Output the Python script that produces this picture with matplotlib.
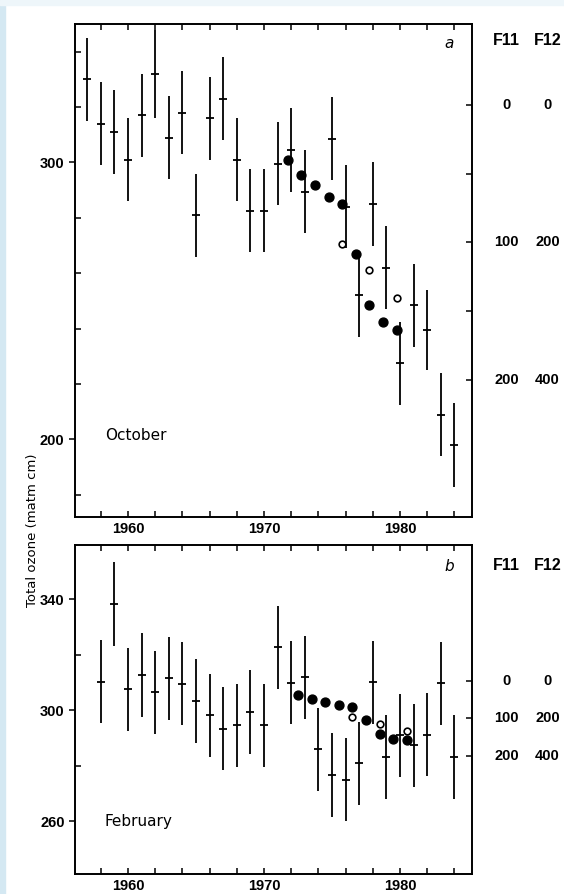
import matplotlib
matplotlib.use("Agg")
import matplotlib.pyplot as plt
from matplotlib.patches import Rectangle
from matplotlib.ticker import FixedLocator, NullFormatter

# October (panel a)
oct_years = [1957, 1958, 1959, 1960, 1961, 1962, 1963, 1964, 1965, 1966, 1967, 1968, 1969, 1970,
             1971, 1972, 1973, 1975, 1976, 1977, 1978, 1979, 1980, 1981, 1982, 1983, 1984]
oct_ozone = [330, 314, 311, 301, 317, 332, 309, 318, 281, 316, 323, 301, 282.5, 282.5,
             299.5, 304.5, 289.5, 308.5, 284, 252, 285, 262, 227.5, 248.5, 239.5, 209, 198]
oct_err = [15, 15, 15, 15, 15, 16, 15, 15, 15, 15, 15, 15, 15, 15,
           15, 15, 15, 15, 15, 15, 15, 15, 15, 15, 14.5, 15, 15]
oct_model_years = [1971.75, 1972.75, 1973.75, 1974.75, 1975.75, 1976.75, 1977.75, 1978.75, 1979.75]
oct_model = [301, 295.5, 292, 287.5, 285, 267, 248.5, 242.5, 239.5]
oct_open_years = [1975.75, 1977.75, 1979.75]
oct_open = [270.5, 261, 251]

# February (panel b)
feb_years = [1958, 1959, 1960, 1961, 1962, 1963, 1964, 1965, 1966, 1967, 1968, 1969, 1970, 1971,
             1972, 1973, 1974, 1975, 1976, 1977, 1978, 1979, 1980, 1981, 1982, 1983, 1984]
feb_ozone = [310.3, 338.3, 307.5, 312.7, 306.4, 311.5, 309.6, 303.3, 298.2, 293.4, 294.6, 299.4,
             294.6, 322.6, 309.9, 311.8, 285.9, 276.7, 275.0, 280.9, 310.0, 283.1, 290.9, 287.3,
             291.2, 309.7, 283.1]
feb_err = [15] * len(feb_years)
feb_model_years = [1972.5, 1973.5, 1974.5, 1975.5, 1976.5, 1977.5, 1978.5, 1979.5, 1980.5]
feb_model = [305.4, 304, 303, 301.8, 301, 296.4, 291.6, 289.7, 289.1]
feb_open_years = [1976.5, 1978.5, 1980.5]
feb_open = [297.4, 294.9, 292.4]

# right-hand CFC scales
cfc_ticks_a = [0, 50, 100, 150, 200]
cfc_ticks_b = [0, 100, 200]
f11_labels = ["0", "100", "200"]
f12_labels = ["0", "200", "400"]

NUM = dict(family="Liberation Sans", fontweight="bold", fontsize=10.5)

fig = plt.figure(figsize=(5.64, 8.94), dpi=100)
fig.patch.set_facecolor("white")
fig.patches.append(Rectangle((0, 0), 5 / 564, 1, transform=fig.transFigure,
                             color="#d4e8f2", zorder=0))
fig.patches.append(Rectangle((0, 1 - 5 / 894), 1, 5 / 894, transform=fig.transFigure,
                             color="#eef6fa", zorder=0))

ax1 = fig.add_axes([75 / 564, 1 - 517 / 894, 397 / 564, 493 / 894])
ax2 = fig.add_axes([75 / 564, 1 - 874 / 894, 397 / 564, 329 / 894])


def style_labels(ax):
    for lab in ax.get_xticklabels() + ax.get_yticklabels():
        lab.set_fontfamily(NUM["family"])
        lab.set_fontweight(NUM["fontweight"])
        lab.set_fontsize(NUM["fontsize"])


def draw_panel(ax, years, vals, errs, myears, mvals, oyears, ovals):
    ax.errorbar(years, vals, yerr=errs, fmt="_", color="black", ms=5.5, mew=1.3,
                elinewidth=1.3, capsize=0)
    ax.plot(myears, mvals, "o", color="black", ms=6.4, zorder=3)
    ax.plot(oyears, ovals, "o", mfc="white", mec="black", ms=4.8, mew=1.2, zorder=3)
    ax.set_xlim(1956.1, 1985.3)
    ax.xaxis.set_major_locator(FixedLocator([1960, 1970, 1980]))
    ax.xaxis.set_minor_locator(FixedLocator([1958, 1962, 1964, 1966, 1968, 1972, 1974,
                                             1976, 1978, 1982, 1984]))
    ax.tick_params(axis="x", which="both", direction="in", top=True, length=4.5, width=1.1)
    ax.tick_params(axis="y", which="major", direction="out", length=4, width=1.1)
    ax.tick_params(axis="y", which="minor", direction="in", length=4.5, width=1.1)
    ax.yaxis.set_minor_formatter(NullFormatter())
    for sp in ax.spines.values():
        sp.set_linewidth(1.4)


draw_panel(ax1, oct_years, oct_ozone, oct_err, oct_model_years, oct_model,
           oct_open_years, oct_open)
ax1.set_ylim(172, 350)
ax1.set_yticks([200, 300])
ax1.yaxis.set_minor_locator(FixedLocator([180, 220, 240, 260, 280, 320, 340]))
style_labels(ax1)
ax1.text(0.075, 0.156, "October", transform=ax1.transAxes, fontsize=11)
ax1.text(0.955, 0.96, "a", transform=ax1.transAxes, fontsize=11, style="italic",
         ha="right", va="center")

draw_panel(ax2, feb_years, feb_ozone, feb_err, feb_model_years, feb_model,
           feb_open_years, feb_open)
ax2.set_ylim(241, 359.5)
ax2.set_yticks([260, 300, 340])
ax2.yaxis.set_minor_locator(FixedLocator([280, 320]))
style_labels(ax2)
ax2.text(0.075, 0.145, "February", transform=ax2.transAxes, fontsize=11)
ax2.text(0.955, 0.935, "b", transform=ax2.transAxes, fontsize=11, style="italic",
         ha="right", va="center")

# CFC scales on the right
for ax, lims, ticks, head_y in [(ax1, (299.6, -58.7), cfc_ticks_a, 0.9675),
                                (ax2, (514.7, -362.7), cfc_ticks_b, 0.939)]:
    tw = ax.twinx()
    tw.set_ylim(*lims)
    tw.set_yticks(ticks)
    tw.set_yticklabels([])
    tw.tick_params(axis="y", direction="in", length=4.5, width=1.1)
    for sp in tw.spines.values():
        sp.set_visible(False)
    trans = tw.get_yaxis_transform()
    for v, a, b in zip(cfc_ticks_b, f11_labels, f12_labels):
        tw.text(1.087, v, a, transform=trans, ha="center", va="center", clip_on=False, **NUM)
        tw.text(1.19, v, b, transform=trans, ha="center", va="center", clip_on=False, **NUM)
    ax.text(1.087, head_y, "F11", transform=ax.transAxes, ha="center", va="center",
            family="Liberation Sans", fontweight="bold", fontsize=11.5)
    ax.text(1.19, head_y, "F12", transform=ax.transAxes, ha="center", va="center",
            family="Liberation Sans", fontweight="bold", fontsize=11.5)

fig.text(33 / 564, 1 - 530 / 894, "Total ozone (matm cm)", rotation=90,
         ha="center", va="center", fontsize=9.5)

fig.savefig("out.png", dpi=100)
